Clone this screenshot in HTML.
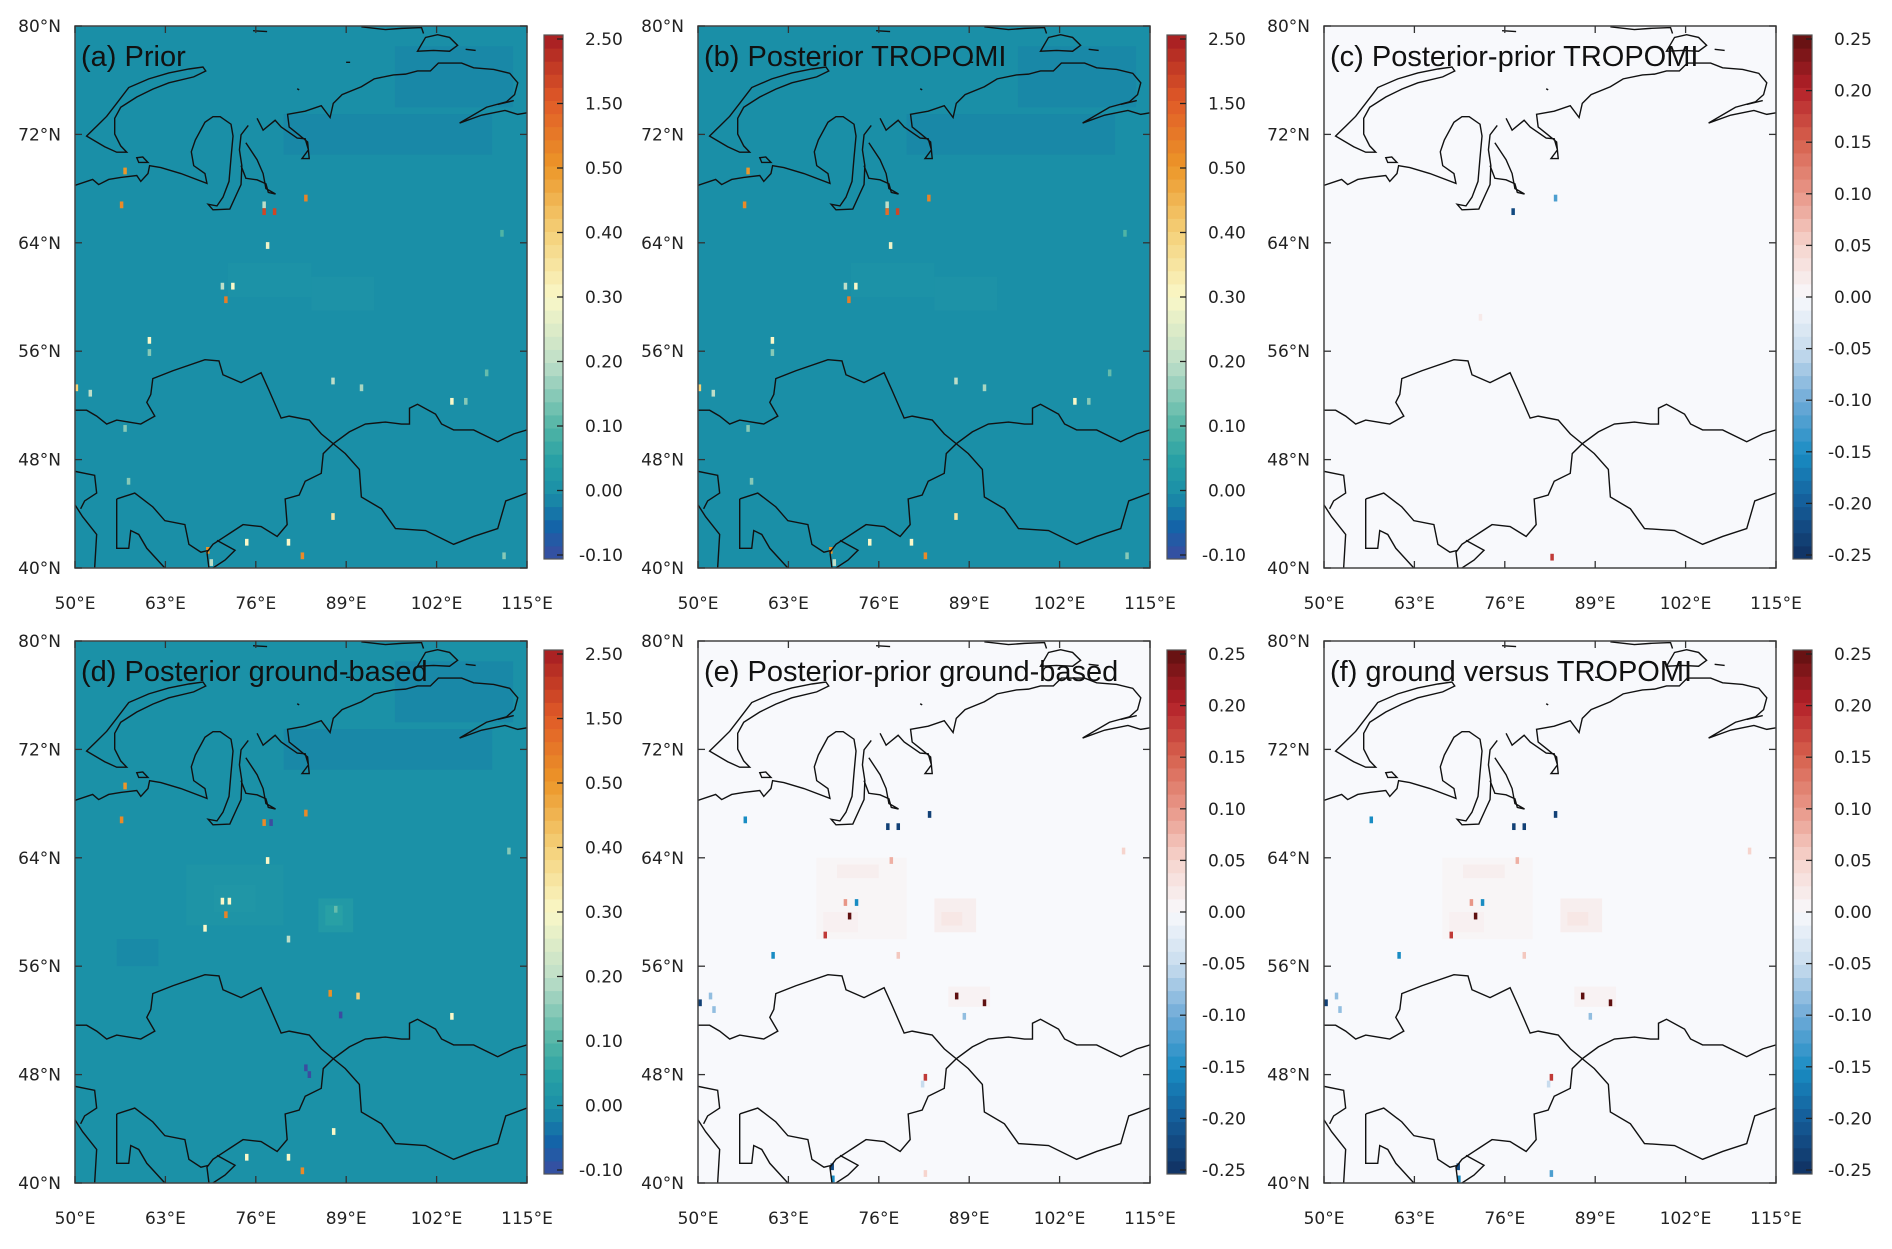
<!DOCTYPE html>
<html><head><meta charset="utf-8">
<style>
html,body{margin:0;padding:0;background:#fff;}
svg text{font-family:"Liberation Sans","DejaVu Sans",sans-serif;}
svg text.tk{font-family:"DejaVu Sans","Liberation Sans",sans-serif;}
</style></head>
<body>
<svg id="fig" width="1892" height="1244" viewBox="0 0 1892 1244" xmlns="http://www.w3.org/2000/svg"></svg>
<script>
// ---------- data ----------
const lonTicks = [50, 63, 76, 89, 102, 115];
const latTicks = [40, 48, 56, 64, 72, 80];
const seqLabels = ["2.50","1.50","0.50","0.40","0.30","0.20","0.10","0.00","-0.10"];
const divLabels = ["0.25","0.20","0.15","0.10","0.05","0.00","-0.05","-0.10","-0.15","-0.20","-0.25"];
const panelTitles = ["(a) Prior","(b) Posterior TROPOMI","(c) Posterior-prior TROPOMI","(d) Posterior ground-based","(e) Posterior-prior ground-based","(f) ground versus TROPOMI"];

// background value per panel
const baseValues = [0.0, 0.0, 0.0, 0.005, 0.0, 0.0];

// patches: [lon0, lat0, lon1, lat1, value]
const patchesA = [[80,70.5,110,73.5,-0.008],[96,74,113,78.5,-0.008],[72,60,84,62.5,0.008],[84,59,93,61.5,0.01]];
const patchesB = [[80,70.5,110,73.5,-0.008],[96,74,113,78.5,-0.008],[72,60,84,62.5,0.008],[84,59,93,61.5,0.01]];
const patchesC = [];
const patchesD = [[80,70.5,110,73.5,-0.008],[96,74,113,78.5,-0.008],[66,59,80,63.5,0.015],[70,60,76,62,0.02],[85,58.5,90,61,0.03],[86,59,88.5,60.5,0.05],[56,56,62,58,-0.006]];
const patchesE = [[67,58,80,64,0.006],[70,62.5,76,63.5,0.015],[68,58.5,73,60,0.012],[84,58.5,90,61,0.015],[85,59,88,60,0.025],[86,53,92,54.5,0.01]];
const patchesF = [[67,58,80,64,0.006],[70,62.5,76,63.5,0.015],[68,58.5,73,60,0.012],[84,58.5,90,61,0.015],[85,59,88,60,0.025],[86,53,92,54.5,0.01]];

// hotspots: [lon, lat, value]
const spotsA = [[57.2,69.3,0.5],[56.7,66.8,0.7],[77.2,66.8,0.2],[77.2,66.3,1.8],[78.7,66.3,1.8],[83.2,67.3,0.8],[77.7,63.8,0.28],[71.2,60.8,0.2],[72.7,60.8,0.3],[71.7,59.8,0.9],[60.7,56.8,0.3],[60.7,55.9,0.15],[50.2,53.3,0.4],[52.2,52.9,0.2],[87.1,53.8,0.2],[91.2,53.3,0.18],[104.2,52.3,0.3],[106.2,52.3,0.15],[109.2,54.4,0.12],[111.4,64.7,0.1],[57.2,50.3,0.15],[57.7,46.4,0.15],[87.1,43.8,0.35],[74.7,41.9,0.3],[80.7,41.9,0.3],[82.7,40.9,0.7],[69.1,41.3,0.5],[69.6,40.4,0.2],[111.7,40.9,0.15]];
const spotsB = [[57.2,69.3,0.5],[56.7,66.8,0.7],[77.2,66.8,0.2],[77.2,66.3,1.2],[78.7,66.3,1.8],[83.2,67.3,0.8],[77.7,63.8,0.28],[71.2,60.8,0.2],[72.7,60.8,0.3],[71.7,59.8,0.9],[60.7,56.8,0.3],[60.7,55.9,0.15],[50.2,53.3,0.4],[52.2,52.9,0.2],[87.1,53.8,0.2],[91.2,53.3,0.18],[104.2,52.3,0.3],[106.2,52.3,0.15],[109.2,54.4,0.12],[111.4,64.7,0.1],[57.2,50.3,0.15],[57.7,46.4,0.15],[87.1,43.8,0.35],[74.7,41.9,0.3],[80.7,41.9,0.3],[82.7,40.9,0.7],[69.1,41.3,0.5],[69.6,40.4,0.2],[111.7,40.9,0.15]];
const spotsC = [[77.2,66.3,-0.22],[83.3,67.3,-0.12],[82.8,40.8,0.18],[72.5,58.5,0.02]];
const spotsD = [[57.2,69.3,0.5],[56.7,66.8,0.7],[77.2,66.6,0.7],[78.2,66.6,-0.1],[83.2,67.3,0.7],[77.7,63.8,0.3],[71.2,60.8,0.3],[72.2,60.8,0.3],[71.7,59.8,0.8],[68.7,58.8,0.3],[80.7,58.0,0.2],[86.7,54.0,0.6],[90.7,53.8,0.4],[88.2,52.4,-0.1],[104.2,52.3,0.3],[83.2,48.5,-0.1],[83.7,48.0,-0.1],[87.2,43.8,0.3],[74.7,41.9,0.3],[80.7,41.9,0.3],[82.7,40.9,0.7],[112.4,64.5,0.15],[87.5,60.2,0.12]];
const spotsE = [[56.8,66.8,-0.15],[77.3,66.3,-0.23],[78.8,66.3,-0.23],[83.3,67.2,-0.23],[77.8,63.8,0.08],[71.2,60.7,0.1],[72.8,60.7,-0.15],[71.8,59.7,0.25],[68.3,58.3,0.18],[60.8,56.8,-0.15],[78.8,56.8,0.06],[87.2,53.8,0.25],[91.2,53.3,0.25],[88.3,52.3,-0.08],[51.8,53.8,-0.08],[52.3,52.8,-0.08],[50.3,53.3,-0.23],[82.7,47.8,0.18],[82.3,47.3,-0.05],[82.7,40.7,0.05],[69.3,41.2,-0.22],[69.4,40.3,-0.15],[111.2,64.5,0.05]];
const spotsF = [[56.8,66.8,-0.15],[77.3,66.3,-0.23],[78.8,66.3,-0.23],[83.3,67.2,-0.23],[77.8,63.8,0.08],[71.2,60.7,0.1],[72.8,60.7,-0.15],[71.8,59.7,0.25],[68.3,58.3,0.18],[60.8,56.8,-0.15],[78.8,56.8,0.06],[87.2,53.8,0.25],[91.2,53.3,0.25],[88.3,52.3,-0.08],[51.8,53.8,-0.08],[52.3,52.8,-0.08],[50.3,53.3,-0.23],[82.7,47.8,0.18],[82.3,47.3,-0.05],[82.7,40.7,-0.12],[69.3,41.2,-0.22],[69.4,40.3,-0.15],[111.2,64.5,0.05]];

const patchSets = [patchesA, patchesB, patchesC, patchesD, patchesE, patchesF];
const spotSets = [spotsA, spotsB, spotsC, spotsD, spotsE, spotsF];
const panelScale = ["seq","seq","div","seq","div","div"];

// ---------- layout / style ----------
const NS = "http://www.w3.org/2000/svg";
const svg = document.getElementById("fig");
const colX = [75, 698, 1324], rowY = [26, 641], PW = 452, PH = 542;
function mk(tag, attrs, parent){ const e=document.createElementNS(NS,tag); for(const k in attrs) e.setAttribute(k,attrs[k]); (parent||svg).appendChild(e); return e; }

const seqStops = [[-0.10,[59,76,160]],[-0.05,[20,100,168]],[0.0,[26,143,167]],[0.05,[40,160,165]],[0.10,[80,180,165]],[0.20,[190,222,200]],[0.30,[250,248,200]],[0.40,[244,208,120]],[0.50,[236,150,40]],[1.50,[224,90,40]],[2.50,[165,28,34]]];
const divStops = [[-0.25,[16,48,96]],[-0.20,[20,90,150]],[-0.15,[25,140,195]],[-0.10,[110,170,215]],[-0.05,[200,220,238]],[0.0,[248,249,252]],[0.05,[246,212,205]],[0.10,[232,150,135]],[0.15,[214,96,77]],[0.20,[178,32,40]],[0.25,[95,16,16]]];
function interp(stops, v){ if(v<=stops[0][0]) return stops[0][1]; for(let i=0;i<stops.length-1;i++){ const a=stops[i],b=stops[i+1]; if(v<=b[0]){ const f=(v-a[0])/(b[0]-a[0]); return a[1].map((c,j)=>Math.round(c+(b[1][j]-c)*f)); } } return stops[stops.length-1][1]; }
function rgb(c){return "rgb("+c.join(",")+")";}
function colorFor(scale, v){ return rgb(interp(scale==="seq"?seqStops:divStops, v)); }

// map outlines in reference coords (viewBox 186 66 1127 1374)
const coast = [
"M186,470 L230,455 L245,468 L270,455 L300,450 L340,445 L350,460 L368,440 L372,420 L400,425 L450,440 L515,465 L510,440 L482,420 L476,385 L486,355 L510,310 L530,296 L548,296 L575,315 L580,345 L575,400 L570,460 L555,500 L540,522 L518,518 L530,532 L572,530 L590,490 L600,468 L602,420 L596,380 L600,342 L618,318",
"M600,420 L612,452 L640,456 L662,466 L668,488 L686,492 L662,478 L655,440 L640,405 L612,362",
"M640,300 L655,330 L685,305 L700,322 L740,350 L760,352 L768,380 L752,402 L770,402 L766,360 L742,340 L720,322 L716,290 L760,282 L800,268 L822,298 L830,262 L852,240 L900,220 L932,200 L980,190 L1010,188 L1040,180 L1072,180 L1092,160 L1150,160 L1180,172 L1230,176 L1270,186 L1290,210 L1282,240 L1262,258 L1212,272 L1145,312 L1200,292 L1258,280 L1290,290 L1313,286",
"M215,345 L240,320 L265,295 L290,262 L320,222 L370,200 L420,185 L470,175 L505,170 L512,180 L482,195 L420,210 L380,226 L340,246 L300,272 L285,300 L285,340 L300,370 L315,386 L290,386 L260,372 L215,345 Z",
"M340,400 L355,398 L368,412 L345,412 Z",
"M900,68 L960,75 L1000,72 L1050,70 L1055,85",
"M1040,130 L1060,95 L1090,88 L1120,95 L1140,115 L1120,130 L1080,128 Z",
"M1160,125 L1185,128 M862,158 L872,158 M1240,265 L1280,255",
"M630,78 L665,80 M740,225 L745,228"
];
const borders = [
"M186,1040 L215,1040 L240,1055 L265,1075 L290,1065 L320,1070 L350,1075 L385,1055 L365,1020 L375,1000 L380,960 L430,940 L510,912 L545,915 L555,950 L600,970 L650,945 L670,990 L700,1060 L720,1055 L770,1065 L800,1100 L830,1125 L870,1095 L910,1075 L960,1070 L1000,1075 L1020,1075 L1020,1035 L1040,1025 L1085,1050 L1100,1075 L1130,1090 L1180,1090 L1240,1120 L1280,1100 L1313,1090",
"M830,1125 L860,1150 L895,1190 L900,1260 L950,1290 L985,1340 L1060,1345 L1130,1380 L1180,1360 L1240,1340 L1260,1270 L1313,1250",
"M830,1125 L805,1150 L800,1200 L760,1220 L745,1255 L710,1265 L715,1330 L690,1360 L650,1335 L605,1330 L575,1350 L560,1360 L530,1380 L515,1400 L520,1440",
"M186,1195 L210,1200 L235,1205 L240,1250 L210,1270 L200,1290",
"M290,1265 L335,1250 L380,1285 L410,1320 L460,1330 L470,1380 L500,1400 L520,1395",
"M290,1265 L290,1390 L320,1390 L325,1345 L345,1355 L365,1390 L410,1440",
"M186,1280 L205,1310 L240,1355 L235,1440",
"M540,1370 L585,1395 L560,1420 L530,1440"
];

function lonX(p, lon){ return p.x + (lon-50)/65*PW; }
function latY(p, lat){ return p.y + (80-lat)/40*PH; }

for(let k=0;k<6;k++){
  const p = {x: colX[k%3], y: rowY[Math.floor(k/3)]};
  const scale = panelScale[k];
  const g = mk("g",{});
  
  
  const clipId = "clip"+k;
  const cp = mk("clipPath",{id:clipId}, g); mk("rect",{x:p.x,y:p.y,width:PW,height:PH},cp);
  const field = mk("g",{"clip-path":"url(#"+clipId+")"}, g);
  
  
  const bg = mk("rect",{x:p.x,y:p.y,width:PW,height:PH,fill:colorFor(scale, baseValues[k])}, field);
  
  
  patchSets[k].forEach(pt=>{
    const x0=lonX(p,pt[0]), x1=lonX(p,pt[2]), y0=latY(p,pt[3]), y1=latY(p,pt[1]);
    const r = mk("rect",{x:x0,y:y0,width:x1-x0,height:y1-y0,fill:colorFor(scale,pt[4])}, field);
    
    
  });
  spotSets[k].forEach(s=>{
    const cx=lonX(p,s[0]), cy=latY(p,s[1]);
    const w=0.5/65*PW, h=0.5/40*PH;
    const r = mk("rect",{x:cx-w/2,y:cy-h/2,width:w,height:h,fill:colorFor(scale,s[2])}, field);
    
    
  });
  const ms = mk("svg",{x:p.x,y:p.y,width:PW,height:PH,viewBox:"186 66 1127 1374",preserveAspectRatio:"none",overflow:"hidden"}, g);
  
  
  coast.concat(borders).forEach(d=>mk("path",{d:d,fill:"none",stroke:"#111","stroke-width":1.4,"vector-effect":"non-scaling-stroke"}, ms));
  const fr = mk("rect",{x:p.x,y:p.y,width:PW,height:PH,fill:"none",stroke:"#444","stroke-width":1.5}, g);
  
  
  lonTicks.forEach(l=>{
    const x=lonX(p,l);
    mk("line",{x1:x,y1:p.y,x2:x,y2:p.y+7,stroke:"#333","stroke-width":1.3}, g);
    mk("line",{x1:x,y1:p.y+PH,x2:x,y2:p.y+PH-7,stroke:"#333","stroke-width":1.3}, g);
    const t = mk("text",{class:"tk",x:x,y:p.y+PH+41,"font-size":17,"text-anchor":"middle",fill:"#222"}, g);
    t.textContent = l+"°E";
    
    
  });
  latTicks.forEach(l=>{
    const y=latY(p,l);
    mk("line",{x1:p.x,y1:y,x2:p.x+7,y2:y,stroke:"#333","stroke-width":1.3}, g);
    mk("line",{x1:p.x+PW,y1:y,x2:p.x+PW-7,y2:y,stroke:"#333","stroke-width":1.3}, g);
    const t = mk("text",{class:"tk",x:p.x-14,y:y+6,"font-size":17,"text-anchor":"end",fill:"#222"}, g);
    t.textContent = l+"°N";
    
    
  });
  const tt = mk("text",{x:p.x+6,y:p.y+40,"font-size":29,fill:"#111"}, g);
  tt.textContent = panelTitles[k];
  
  

  const cbx = p.x+PW+17, cby = p.y+9, cbh = 524, cbw = 19;
  const cb = mk("g",{}, g);
  
  
  const nb = 40;
  for(let i=0;i<nb;i++){
    const f = (i+0.5)/nb;
    let v;
    if(scale==="seq"){ const idx=f*8; const t=[-0.10,0.0,0.10,0.20,0.30,0.40,0.50,1.50,2.50]; const j=Math.min(7,Math.floor(idx)); v=t[j]+(idx-j)*(t[j+1]-t[j]); }
    else { v=-0.25+f*0.5; }
    mk("rect",{x:cbx,y:cby+cbh-(i+1)*cbh/nb,width:cbw,height:cbh/nb+0.5,fill:colorFor(scale,v)}, cb);
  }
  mk("rect",{x:cbx,y:cby,width:cbw,height:cbh,fill:"none",stroke:"#555","stroke-width":1.2}, cb);
  const labs = scale==="seq"?seqLabels:divLabels;
  labs.forEach((s,i)=>{
    const y = cby+4+(cbh-8)*i/(labs.length-1);
    mk("line",{x1:cbx+cbw-6,y1:y,x2:cbx+cbw,y2:y,stroke:"#222","stroke-width":1.3}, cb);
    const t = mk("text",{class:"tk",x:cbx+cbw+16+(s[0]==="-"?0:6),y:y+6,"font-size":17,fill:"#222"}, cb);
    t.textContent = s;
    
    
  });
}
</script>
</body></html>
